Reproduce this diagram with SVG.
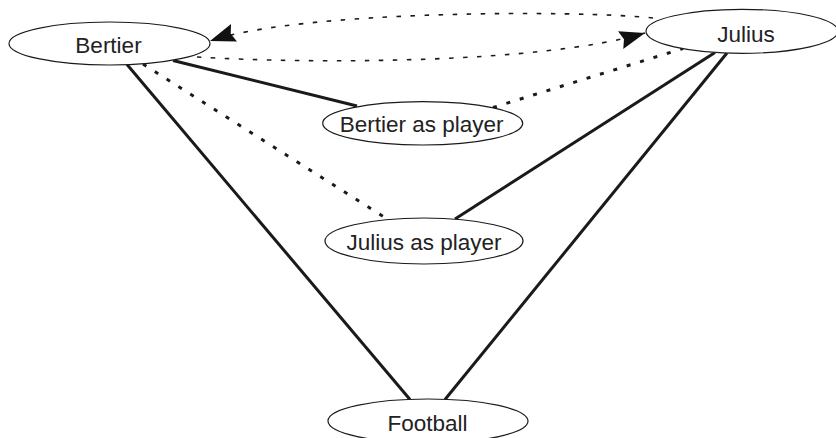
<svg xmlns="http://www.w3.org/2000/svg" width="836" height="438" viewBox="0 0 836 438">
<defs>
<style>
.node ellipse{fill:#fff;stroke:#1a1a1a;stroke-width:1.2}
.node text{font-family:"Liberation Sans",Arial,sans-serif;font-size:22.5px;fill:#222;text-anchor:middle}
.solid{stroke:#1a1a1a;stroke-width:3;fill:none}
.dotted{stroke:#1a1a1a;stroke-width:3;fill:none;stroke-dasharray:4 10}
.dashed{stroke:#1a1a1a;stroke-width:1.6;fill:none;stroke-dasharray:4.5 9.5}
</style>
<marker id="arr" markerUnits="userSpaceOnUse" markerWidth="30" markerHeight="30" viewBox="-24 -10 26 20" refX="0" refY="0" orient="auto" overflow="visible">
<path d="M0,0 L-22,-8 L-19,0 L-22,8 Z" fill="#111"/>
</marker>
</defs>
<rect width="836" height="438" fill="#fff"/>
<g id="connectors">
<line class="solid" x1="173" y1="60.5" x2="357" y2="106"/>
<line class="dotted" x1="493" y1="107.5" x2="683" y2="48.5"/>
<line class="dotted" x1="143" y1="64" x2="388" y2="219.5"/>
<line class="solid" x1="455" y1="219" x2="715" y2="52.5"/>
<line class="solid" x1="127" y1="64.5" x2="410" y2="399.5"/>
<line class="solid" x1="727" y1="53" x2="445" y2="399.5"/>
<path class="dashed" d="M653,18 C580,10 300,10 210,41" marker-end="url(#arr)"/>
<path class="dashed" d="M197,57 C310,64 540,64 645,33" marker-end="url(#arr)"/>
</g>
<g id="bertier" class="node">
<ellipse cx="109.5" cy="43.5" rx="100.5" ry="21.5"/>
<text x="108.5" y="53">Bertier</text>
</g>
<g id="julius" class="node">
<ellipse cx="742" cy="31.3" rx="96" ry="22"/>
<text x="746" y="41.5">Julius</text>
</g>
<g id="bertier-as-player" class="node">
<ellipse cx="422.7" cy="123.3" rx="100" ry="21.7"/>
<text x="421.7" y="131.5">Bertier as player</text>
</g>
<g id="julius-as-player" class="node">
<ellipse cx="424" cy="241" rx="99" ry="23"/>
<text x="424" y="250">Julius as player</text>
</g>
<g id="football" class="node">
<ellipse cx="428" cy="421" rx="100" ry="22"/>
<text x="427.5" y="430.5">Football</text>
</g>
</svg>
